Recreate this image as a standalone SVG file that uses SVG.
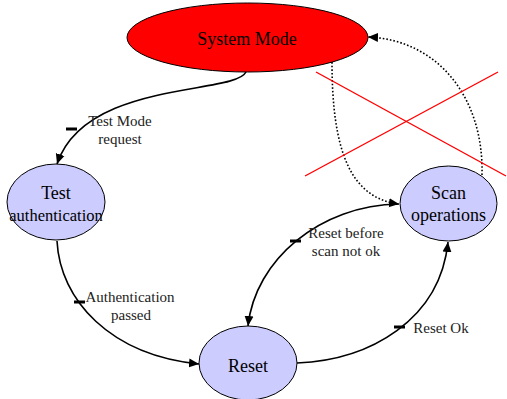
<svg xmlns="http://www.w3.org/2000/svg" width="507" height="399" viewBox="0 0 507 399">
  <style>
    .state { fill: #ccccff; stroke: #000; stroke-width: 1; }
    .mode { fill: #ff0000; stroke: #000; stroke-width: 1; }
    .name { font-family: "Liberation Serif", "Times New Roman", serif; font-size: 18px; fill: #000; text-anchor: middle; }
    .lbl { font-family: "Liberation Serif", "Times New Roman", serif; font-size: 15px; fill: #222; text-anchor: middle; }
    .edge { fill: none; stroke: #000; stroke-width: 1.6; }
    .dot { fill: none; stroke: #000; stroke-width: 1.6; stroke-dasharray: 1.6 2; }
    .tick { stroke: #000; stroke-width: 3; }
    .cross { stroke: #ff0000; stroke-width: 1.4; }
  </style>
  <defs>
    <marker id="arrow" viewBox="0 0 10 10" refX="10" refY="5" markerWidth="10" markerHeight="10" markerUnits="userSpaceOnUse" orient="auto">
      <path d="M0,0.5 L10,5 L0,9.5 Z" fill="#000"/>
    </marker>
  </defs>

  <rect width="507" height="399" fill="#fff"/>

  <!-- state nodes -->
  <g id="system-mode">
    <ellipse class="mode" cx="247.5" cy="37.5" rx="120.5" ry="34.5"/>
    <text class="name" x="247" y="45">System Mode</text>
  </g>
  <g id="test-authentication">
    <ellipse class="state" cx="56" cy="202" rx="49" ry="38"/>
    <text class="name" x="56" y="199">Test</text>
    <text class="name" x="56" y="221" style="font-size:16.5px">authentication</text>
  </g>
  <g id="scan-operations">
    <ellipse class="state" cx="448.5" cy="203.5" rx="48.5" ry="37.5"/>
    <text class="name" x="448.5" y="199">Scan</text>
    <text class="name" x="448.5" y="221">operations</text>
  </g>
  <g id="reset">
    <ellipse class="state" cx="248" cy="363" rx="49" ry="37"/>
    <text class="name" x="248" y="372">Reset</text>
  </g>

  <!-- transitions -->
  <g id="connectors">
    <path class="edge" d="M246 72 C235 95 85 80 57 164" marker-end="url(#arrow)"/>
    <line class="tick" x1="66" y1="129" x2="77" y2="129"/>
    <text class="lbl" x="120" y="126">Test Mode</text>
    <text class="lbl" x="120" y="144">request</text>

    <path class="edge" d="M57 241 C60 300 110 355 199 364" marker-end="url(#arrow)"/>
    <line class="tick" x1="74" y1="302" x2="85" y2="302"/>
    <text class="lbl" x="130" y="302">Authentication</text>
    <text class="lbl" x="131" y="320">passed</text>

    <path class="edge" d="M297 363 C370 360 440 320 448 242" marker-end="url(#arrow)"/>
    <line class="tick" x1="394" y1="327" x2="405" y2="327"/>
    <text class="lbl" x="441" y="333">Reset Ok</text>

    <path class="edge" d="M399 204 C320 205 255 260 248 326" marker-end="url(#arrow)"/>
    <line class="tick" x1="290" y1="241" x2="301" y2="241"/>
    <text class="lbl" x="346" y="238">Reset before</text>
    <text class="lbl" x="346" y="256">scan not ok</text>

    <path class="dot" d="M332 62 C332 150 350 198 399 204" marker-end="url(#arrow)"/>
    <path class="dot" d="M482 175 C484 100 440 40 368 37" marker-end="url(#arrow)"/>
  </g>

  <!-- red cross over the scan return path -->
  <g id="cross">
    <line class="cross" x1="316" y1="72" x2="506" y2="176"/>
    <line class="cross" x1="305" y1="176" x2="498" y2="72"/>
  </g>
</svg>
